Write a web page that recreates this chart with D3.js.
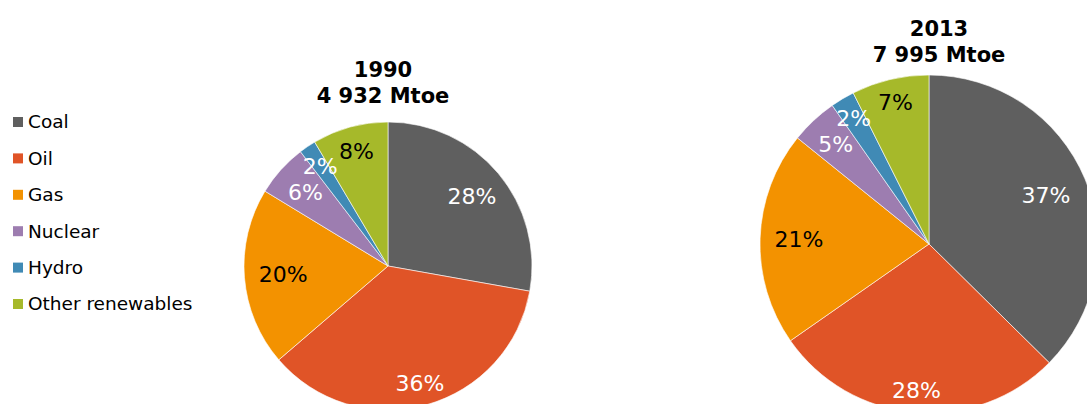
<!DOCTYPE html>
<html>
<head>
<meta charset="utf-8">
<script src="https://cdn.jsdelivr.net/npm/d3@7"></script>
<style>
  body { margin: 0; background: #fff; }
  svg { display: block; font-family: "DejaVu Sans", Verdana, sans-serif; }
</style>
</head>
<body>
<div id="chart"></div>
<script>
// fuel shares of total primary energy supply
var categories = ['Coal', 'Oil', 'Gas', 'Nuclear', 'Hydro', 'Other renewables']
var colors = ['#5f5f5f', '#e05427', '#f39200', '#9d7db0', '#408ab5', '#a6b92a']
var labelColors = ['#fff', '#fff', '#000', '#fff', '#fff', '#000']

var years = ['1990', '2013']
var totals = ['4 932 Mtoe', '7 995 Mtoe']
var shares1990 = [27.8, 35.9, 20.0, 5.9, 1.9, 8.5]
var shares2013 = [37.4, 27.9, 20.5, 4.5, 2.3, 7.4]
var labels1990 = ['28%', '36%', '20%', '6%', '2%', '8%']
var labels2013 = ['37%', '28%', '21%', '5%', '2%', '7%']

var width = 1087, height = 404

var svg = d3.select('#chart').append('svg')
	.attr('width', width)
	.attr('height', height)

var color = d3.scaleOrdinal().domain(categories).range(colors)

// legend
var legend = svg.append('g').attr('class', 'legend')
var legendY = d3.scalePoint().domain(categories).range([122, 304])
categories.forEach(function(c) {
	var g = legend.append('g').attr('transform', 'translate(13,' + legendY(c) + ')')
	g.append('rect')
		.attr('x', 0).attr('y', -5)
		.attr('width', 10).attr('height', 10)
		.attr('fill', color(c))
	g.append('text')
		.attr('x', 15).attr('y', 0)
		.attr('dy', '0.35em')
		.attr('font-size', 18.5)
		.attr('fill', '#000')
		.text(c)
})

// layout per pie; lr = label distance as a fraction of the radius (best-fit like)
var pies = [
	{ values: shares1990, labels: labels1990, cx: 388, cy: 266, r: 144, tx: 383, ty: 77,
		lr: [0.76, 0.84, 0.73, 0.77, 0.84, 0.83] },
	{ values: shares2013, labels: labels2013, cx: 929, cy: 244, r: 169, tx: 939, ty: 36,
		lr: [0.75, 0.87, 0.77, 0.81, 0.87, 0.86] }
]

var pie = d3.pie().sort(null).value(function(d) { return d.value })

pies.forEach(function(p, k) {
	var data = categories.map(function(c, i) {
		return { name: c, value: p.values[i], label: p.labels[i], lc: labelColors[i], lr: p.lr[i] }
	})
	var arcs = pie(data)
	var arc = d3.arc().innerRadius(0).outerRadius(p.r)

	var g = svg.append('g').attr('transform', 'translate(' + p.cx + ',' + p.cy + ')')
	g.selectAll('path')
		.data(arcs)
		.enter()
		.append('path')
		.attr('d', arc)
		.attr('fill', function(d) { return color(d.data.name) })
		.attr('stroke', '#fff')
		.attr('stroke-width', 0.6)

	g.selectAll('text.lbl')
		.data(arcs)
		.enter()
		.append('text').attr('class', 'lbl')
		.attr('transform', function(d) {
			var rr = p.r * d.data.lr
			var la = d3.arc().innerRadius(rr).outerRadius(rr)
			return 'translate(' + la.centroid(d) + ')'
		})
		.attr('text-anchor', 'middle')
		.attr('dy', '0.36em')
		.attr('font-size', 22)
		.attr('fill', function(d) { return d.data.lc })
		.text(function(d) { return d.data.label })

	var t = svg.append('text')
		.attr('x', p.tx).attr('y', p.ty)
		.attr('text-anchor', 'middle')
		.attr('font-size', 21)
		.attr('font-weight', 'bold')
		.attr('fill', '#000')
	t.append('tspan').attr('x', p.tx).text(years[k])
	t.append('tspan').attr('x', p.tx).attr('dy', 26).text(totals[k])
})
</script>
</body>
</html>
